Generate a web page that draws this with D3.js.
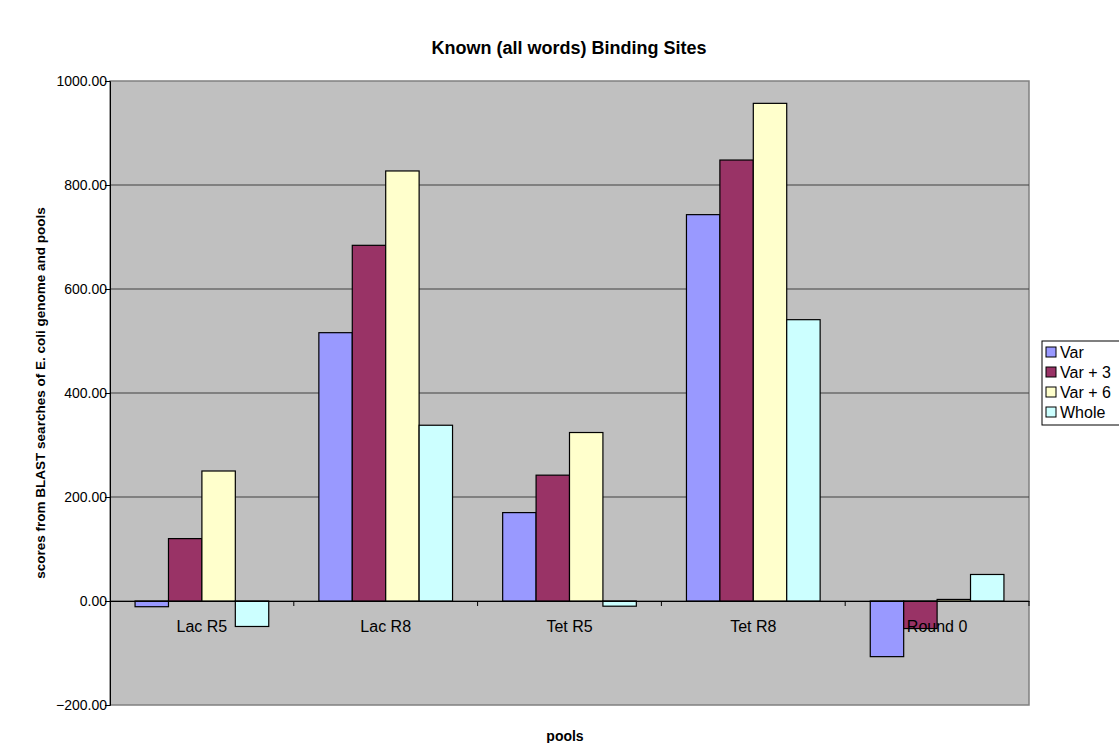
<!DOCTYPE html>
<html>
<head>
<meta charset="utf-8">
<script src="https://cdn.jsdelivr.net/npm/d3@7"></script>
<style>
  body { margin: 0; background: #fff; }
  svg text { font-family: "Liberation Sans", Arial, sans-serif; }
</style>
</head>
<body>
<svg id="chart" width="1119" height="743"></svg>
<script>
// data
const pools = ["Lac R5", "Lac R8", "Tet R5", "Tet R8", "Round 0"];
const seriesNames = ["Var", "Var + 3", "Var + 6", "Whole"];
const varScores = [-11, 516, 170, 743, -107];
const var3Scores = [120, 684, 242, 848, -53];
const var6Scores = [250, 827, 324, 957, 3];
const wholeScores = [-49, 338, -10, 541, 51];
const yTicks = [-200, 0, 200, 400, 600, 800, 1000];
const colors = ["#9999ff", "#993366", "#ffffcc", "#ccffff"];

const series = [varScores, var3Scores, var6Scores, wholeScores];

const svg = d3.select("#chart");
const plot = { left: 110, top: 81, right: 1029, bottom: 705 };

const x = d3.scaleBand()
    .domain(pools)
    .range([plot.left, plot.right]);

// gap width 150% like excel
const x1 = d3.scaleBand()
    .domain(seriesNames)
    .range([0, x.bandwidth()])
    .paddingOuter(0.75)
    .paddingInner(0);

const y = d3.scaleLinear()
    .domain([-200, 1000])
    .range([plot.bottom, plot.top]);

// plot background
svg.append("rect")
    .attr("x", plot.left).attr("y", plot.top)
    .attr("width", plot.right - plot.left)
    .attr("height", plot.bottom - plot.top)
    .attr("fill", "#c0c0c0")
    .attr("stroke", "#808080")
    .attr("stroke-width", 1.5);

// gridlines
svg.append("g")
    .selectAll("line")
    .data(yTicks.filter(d => d > -200 && d < 1000))
    .enter().append("line")
    .attr("x1", plot.left).attr("x2", plot.right)
    .attr("y1", d => y(d)).attr("y2", d => y(d))
    .attr("stroke", "#404040")
    .attr("stroke-width", 1);

// y axis
const yAxis = svg.append("g")
    .attr("transform", `translate(${plot.left},0)`)
    .call(d3.axisLeft(y).tickValues(yTicks).tickSize(5).tickFormat(d3.format(".2f")));
yAxis.select(".domain").attr("stroke", "#000");
yAxis.selectAll("text")
    .attr("font-size", 14)
    .attr("fill", "#000")
    .attr("x", -3);

// bars
series.forEach((vals, i) => {
    svg.append("g")
        .selectAll("rect")
        .data(vals)
        .enter().append("rect")
        .attr("x", (d, j) => x(pools[j]) + x1(seriesNames[i]))
        .attr("y", d => y(Math.max(0, d)))
        .attr("width", x1.bandwidth())
        .attr("height", d => Math.abs(y(d) - y(0)))
        .attr("fill", colors[i])
        .attr("stroke", "#000")
        .attr("stroke-width", 1.2);
});

// category axis on zero line
const xAxis = svg.append("g")
    .attr("transform", `translate(0,${y(0)})`)
    .call(d3.axisBottom(x).tickSize(0));
xAxis.select(".domain").attr("stroke", "#000");
xAxis.selectAll("text")
    .attr("font-size", 16)
    .attr("fill", "#000")
    .attr("y", 31)
    .attr("dy", 0);
xAxis.selectAll(".between")
    .data(pools)
    .enter().append("line")
    .attr("x1", (d, j) => plot.left + x.step() * (j + 1))
    .attr("x2", (d, j) => plot.left + x.step() * (j + 1))
    .attr("y1", 0).attr("y2", 5)
    .attr("stroke", "#000");

// titles
svg.append("text")
    .attr("x", 569).attr("y", 54)
    .attr("text-anchor", "middle")
    .attr("font-size", 18).attr("font-weight", "bold")
    .text("Known (all words) Binding Sites");

svg.append("text")
    .attr("x", 565).attr("y", 741)
    .attr("text-anchor", "middle")
    .attr("font-size", 14).attr("font-weight", "bold")
    .text("pools");

svg.append("text")
    .attr("transform", `translate(45,${(plot.top + plot.bottom) / 2}) rotate(-90)`)
    .attr("text-anchor", "middle")
    .attr("font-size", 13.5).attr("font-weight", "bold")
    .text("scores from BLAST searches of E. coli genome and pools");

// legend
const legend = svg.append("g").attr("transform", "translate(1042,341)");
legend.append("rect")
    .attr("x", 0).attr("y", 0)
    .attr("width", 90).attr("height", 84)
    .attr("fill", "#fff")
    .attr("stroke", "#000");
seriesNames.forEach((name, i) => {
    const row = legend.append("g").attr("transform", `translate(4,${11 + i * 20})`);
    row.append("rect")
        .attr("x", 0).attr("y", -5)
        .attr("width", 10).attr("height", 10)
        .attr("fill", colors[i])
        .attr("stroke", "#000");
    row.append("text")
        .attr("x", 14).attr("y", 6)
        .attr("font-size", 16)
        .text(name);
});
</script>
</body>
</html>
